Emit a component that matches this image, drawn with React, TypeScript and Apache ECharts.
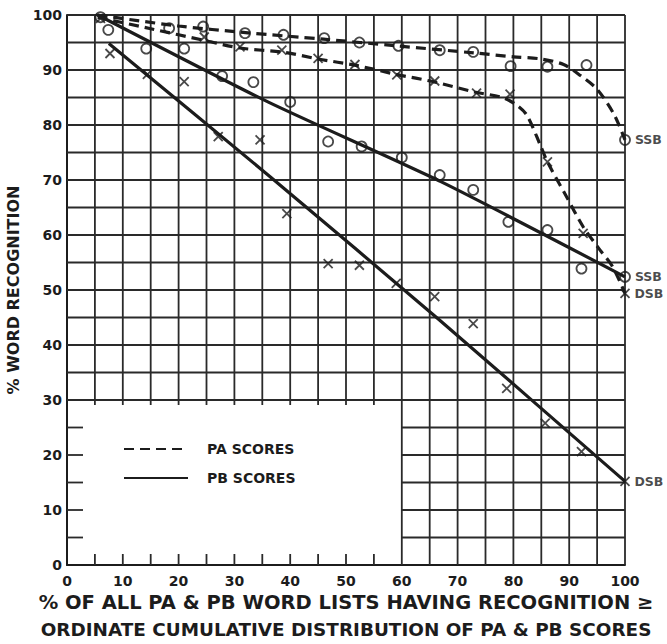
import React, { useEffect, useRef } from "react";
import * as echarts from "echarts";

// ---- data ----
// fitted curves
const paSsbCurve = [[5.5, 100], [20, 98], [32, 96.8], [46, 95.6], [59, 94.4], [73, 93.1], [80, 92.4], [85, 92], [89, 91], [92, 89], [95, 86.5], [98, 82], [100, 77.3]];
const paDsbCurve = [[5.5, 99.6], [15, 97.5], [25, 95.3], [31, 94], [39, 93.2], [45, 92], [52, 90.8], [59, 89.2], [66, 87.8], [73, 86], [78, 85], [80.6, 83.6], [82.4, 81.8], [84.8, 76.4], [86.1, 73.3], [89.5, 67], [92.5, 61.5], [95.5, 57.3], [97.8, 54.2], [100, 49.4]];
const pbSsbCurve = [[5.5, 100], [36, 84.2], [67, 69.7], [100, 52.4]];
const pbDsbCurve = [[7.5, 94.8], [36.4, 70.6], [66.8, 44.5], [100, 15.2]];

// observed points
const paSsbPoints = [[6, 99.6], [18.3, 97.6], [24.4, 97.9], [31.9, 96.7], [38.8, 96.4], [46.1, 95.8], [52.4, 95.0], [59.4, 94.4], [66.8, 93.6], [72.8, 93.3], [79.5, 90.7], [86.1, 90.6], [93.1, 90.9], [100, 77.3]];
const paDsbPoints = [[6, 99.4], [24.6, 96.0], [31.0, 94.2], [38.5, 93.6], [45.0, 92.1], [51.6, 91.0], [59.1, 89.1], [65.9, 88.0], [73.4, 85.8], [79.4, 85.6], [86.1, 73.3], [92.5, 60.3], [100, 49.4]];
const pbSsbPoints = [[7.4, 97.3], [14.2, 93.9], [21.0, 93.9], [27.8, 88.9], [33.4, 87.8], [40.0, 84.2], [46.8, 77.0], [52.8, 76.1], [60.0, 74.1], [66.8, 70.9], [72.8, 68.2], [79.1, 62.4], [86.1, 60.9], [92.2, 53.9], [100, 52.4]];
const pbDsbPoints = [[7.7, 93.0], [14.4, 89.2], [21.0, 87.9], [27.1, 77.9], [34.6, 77.3], [39.4, 63.9], [46.8, 54.8], [52.4, 54.5], [59.0, 51.2], [65.9, 48.8], [72.8, 43.9], [78.8, 32.1], [85.7, 25.8], [92.2, 20.6], [100, 15.2]];

const endLabels = ["SSB", "DSB", "SSB", "DSB"]; // paSsb, paDsb, pbSsb, pbDsb
const xTicks = [0, 10, 20, 30, 40, 50, 60, 70, 80, 90, 100];
const yTicks = [0, 10, 20, 30, 40, 50, 60, 70, 80, 90, 100];
const legendNames = ["PA SCORES", "PB SCORES"];
const xTitleLines = ["% OF ALL PA & PB WORD LISTS HAVING RECOGNITION ≥", "ORDINATE CUMULATIVE DISTRIBUTION OF PA & PB SCORES"];
const yTitle = "% WORD RECOGNITION";

// graph-paper layout (in data units)
const gridStep = 5;
const blankX = 60; // lower-left blank region: x < 60, y < 30
const blankY = 30;

const INK = "#1c1c1c";
const FONT = "DejaVu Sans";

function buildGrid() {
  const segs: number[][] = [];
  for (let x = 0; x <= 100; x += gridStep) {
    if (x === 0) continue; // axis line
    segs.push([x, x < blankX ? blankY : 0, x, 100]);
  }
  for (let y = 0; y <= 100; y += gridStep) {
    if (y === 0) continue;
    segs.push([y < blankY ? blankX : 0, y, 100, y]);
  }
  return segs;
}
function buildTicks() {
  const t: number[][] = [];
  for (let y = gridStep; y < blankY; y += gridStep) t.push([0, y, 0]);
  for (let x = gridStep; x < blankX; x += gridStep) {
    t.push([x, 0, 1]);
    t.push([x, blankY, 2]);
  }
  return t;
}

function withEndLabel(points: number[][], text: string) {
  return points.map((p, i) =>
    i === points.length - 1
      ? {
          value: p,
          label: {
            show: true,
            formatter: text,
            position: "right",
            distance: 4,
            color: INK,
            fontFamily: FONT,
            fontWeight: "bold",
            fontSize: 12.5,
          },
        }
      : { value: p }
  );
}

const X_SYMBOL = "path://M0,0L10,10M10,0L0,10";

export default function App() {
  const ref = useRef<HTMLDivElement>(null);
  useEffect(() => {
    if (!ref.current) return;
    const chart = echarts.init(ref.current, null, { renderer: "svg" });
    const curveLine = (name: string, data: number[][], dashed: boolean, smooth: number) => ({
      name,
      type: "line",
      data,
      smooth,
      symbol: "none",
      z: 4,
      lineStyle: { color: INK, width: 3.2, type: dashed ? [10, 6] : "solid" },
      itemStyle: { color: INK },
    });
    const marks = (name: string, data: any[], cross: boolean) => ({
      name,
      type: "scatter",
      data,
      symbol: cross ? X_SYMBOL : "circle",
      symbolSize: cross ? 9 : 10,
      z: 5,
      itemStyle: { color: "rgba(0,0,0,0)", borderColor: INK, borderWidth: 1.8 },
    });
    const option: any = {
      animation: false,
      backgroundColor: "#ffffff",
      grid: { left: 67, right: 42, top: 15, bottom: 79, containLabel: false, outerBoundsMode: "none" },
      legend: {
        data: legendNames,
        orient: "vertical",
        left: 118,
        top: 437,
        itemWidth: 64,
        itemHeight: 14,
        itemGap: 15,
        selectedMode: false,
        itemStyle: { opacity: 0 },
        textStyle: { color: INK, fontFamily: FONT, fontWeight: "bold", fontSize: 14, padding: [0, 0, 0, 14] },
      },
      xAxis: {
        type: "value",
        min: 0,
        max: 100,
        interval: 10,
        name: `{a|${xTitleLines[0]}}\n{b|${xTitleLines[1]}}`,
        nameLocation: "middle",
        nameGap: 20,
        nameTextStyle: {
          color: INK,
          fontFamily: FONT,
          fontWeight: "bold",
          rich: {
            a: { color: INK, fontFamily: FONT, fontWeight: "bold", fontSize: 19.5, lineHeight: 27 },
            b: { color: INK, fontFamily: FONT, fontWeight: "bold", fontSize: 18.4, lineHeight: 27 },
          },
        },
        axisLine: { show: true, lineStyle: { color: INK, width: 2 } },
        axisTick: { show: false },
        splitLine: { show: false },
        axisLabel: {
          color: INK,
          fontFamily: FONT,
          fontWeight: "bold",
          fontSize: 14,
          margin: 9,
          formatter: (v: number) => (xTicks.includes(v) ? String(v) : ""),
        },
      },
      yAxis: {
        type: "value",
        min: 0,
        max: 100,
        interval: 10,
        name: yTitle,
        nameLocation: "middle",
        nameRotate: 90,
        nameGap: 37,
        nameTextStyle: { color: INK, fontFamily: FONT, fontWeight: "bold", fontSize: 16 },
        axisLine: { show: true, lineStyle: { color: INK, width: 2 } },
        axisTick: { show: false },
        splitLine: { show: false },
        axisLabel: {
          color: INK,
          fontFamily: FONT,
          fontWeight: "bold",
          fontSize: 14,
          margin: 5,
          formatter: (v: number) => (yTicks.includes(v) ? String(v) : ""),
        },
      },
      series: [
        {
          name: "grid-lines",
          type: "custom",
          silent: true,
          z: 1,
          clip: false,
          encode: { x: [0, 2], y: [1, 3] },
          data: buildGrid(),
          renderItem: (_p: any, api: any) => {
            const a = api.coord([api.value(0), api.value(1)]);
            const b = api.coord([api.value(2), api.value(3)]);
            return {
              type: "line",
              shape: { x1: a[0], y1: a[1], x2: b[0], y2: b[1] },
              style: { stroke: "#2a2a2a", lineWidth: 1.8 },
            };
          },
        },
        {
          name: "axis-ticks",
          type: "custom",
          silent: true,
          z: 1,
          clip: false,
          encode: { x: 0, y: 1 },
          data: buildTicks(),
          renderItem: (_p: any, api: any) => {
            const a = api.coord([api.value(0), api.value(1)]);
            const kind = api.value(2);
            let dx = 0, dy = 0;
            if (kind === 0) dx = 16;
            else if (kind === 1) dy = -11;
            else dy = 5;
            return {
              type: "line",
              shape: { x1: a[0], y1: a[1], x2: a[0] + dx, y2: a[1] + dy },
              style: { stroke: "#2a2a2a", lineWidth: 1.8 },
            };
          },
        },
        curveLine(legendNames[0], paSsbCurve, true, 0.3),
        curveLine(legendNames[0], paDsbCurve, true, 0.3),
        curveLine(legendNames[1], pbSsbCurve, false, 0.2),
        curveLine(legendNames[1], pbDsbCurve, false, 0.2),
        marks("PA SSB", withEndLabel(paSsbPoints, endLabels[0]), false),
        marks("PA DSB", withEndLabel(paDsbPoints, endLabels[1]), true),
        marks("PB SSB", withEndLabel(pbSsbPoints, endLabels[2]), false),
        marks("PB DSB", withEndLabel(pbDsbPoints, endLabels[3]), true),
      ],
    };
    chart.setOption(option);
    return () => chart.dispose();
  }, []);
  return (
    <div
      ref={ref}
      style={{ position: "fixed", left: 0, top: 0, width: 667, height: 644, background: "#fff" }}
    />
  );
}
